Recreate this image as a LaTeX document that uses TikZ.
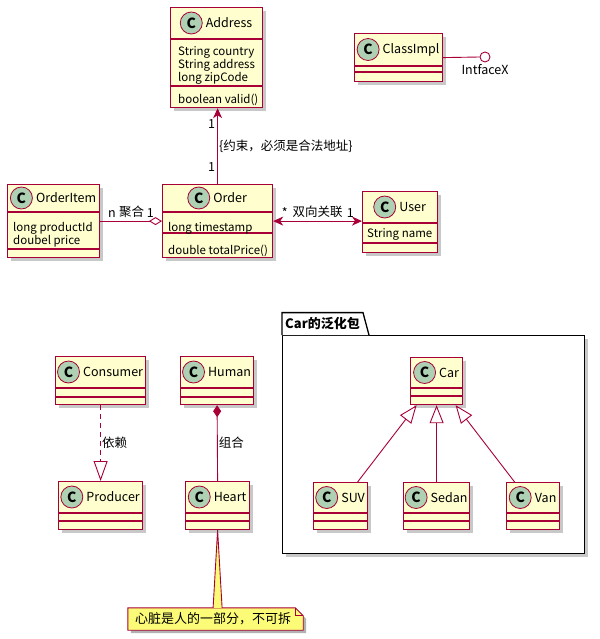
\documentclass[tikz,border=0pt]{standalone}
\usepackage{fontspec}
\setmainfont{Noto Sans CJK SC}
\usetikzlibrary{arrows.meta,positioning,calc,shadows,backgrounds}
\definecolor{umlfill}{HTML}{FEFECE}
\definecolor{umlline}{HTML}{A80036}
\definecolor{badgefill}{HTML}{ADD1B2}
\definecolor{notefill}{HTML}{FBFB77}
\tikzset{
  umlshadow/.style={drop shadow={shadow xshift=3pt,shadow yshift=-3pt,opacity=0.3,fill=black!70}},
  clsbox/.style={draw=umlline,fill=umlfill,line width=1.2pt,rectangle,inner sep=0pt,anchor=north west,umlshadow},
  clssep/.style={draw=umlline,line width=1.2pt},
  badge/.style={circle,draw=umlline,fill=badgefill,line width=0.8pt,minimum size=22pt,inner sep=0pt,font=\bfseries\fontsize{14}{14}\selectfont},
  clsname/.style={inner sep=0pt,font=\fontsize{12.5}{14}\selectfont},
  member/.style={inner sep=0pt,anchor=north west,align=left,font=\fontsize{11.5}{13}\selectfont},
  lbl/.style={inner sep=0pt,font=\fontsize{12.5}{14}\selectfont},
  link/.style={draw=umlline,line width=0.9pt},
  assocarr/.style={link,-{Stealth[length=10pt,width=9pt,inset=3pt]}},
  biarr/.style={link,{Stealth[length=10pt,width=9pt,inset=3pt]}-{Stealth[length=10pt,width=9pt,inset=3pt]}},
  aggarr/.style={link,-{Diamond[fill=white,length=13pt,width=8pt]}},
  comparr/.style={link,{Diamond[length=12pt,width=8pt]}-},
  deparr/.style={link,dashed,dash pattern=on 5pt off 4pt,-{Triangle[open,length=20pt,width=14pt]}},
  genarr/.style={link,-{Triangle[open,length=18pt,width=14pt]}},
  ifacecirc/.style={circle,draw=umlline,fill=white,line width=0.9pt,minimum size=10pt,inner sep=0pt},
  pkgbox/.style={draw=black,fill=white,line width=1.3pt,rectangle,inner sep=0pt,anchor=north west,umlshadow},
  pkgtab/.style={inner xsep=3pt,inner ysep=0pt,minimum height=22pt,anchor=south west,font=\bfseries\fontsize{13}{15}\selectfont},
  notebox/.style={inner xsep=7pt,inner ysep=0pt,text width=161pt,align=left,minimum height=22pt,font=\fontsize{13}{15}\selectfont}
}
% class box: id, corner, width, height, first and second separator, name
\newcommand{\umlclass}[7]{%
  \node[clsbox,minimum width=#3,minimum height=#4] (#1) at #2 {};
  \draw[clssep] ([yshift=-#5]#1.north west) -- ([yshift=-#5]#1.north east);
  \draw[clssep] ([yshift=-#6]#1.north west) -- ([yshift=-#6]#1.north east);
  \node[clsname] (#1-name) at ([xshift=12.5pt,yshift=-#5/2]#1.north) {#7};
  \node[badge,left=3pt of #1-name] (#1-c) {C};
}
\begin{document}
\begin{tikzpicture}[x=1pt,y=-1pt]
  \useasboundingbox (0,0) rectangle (599,639);
  \begin{scope}[on background layer]
    \fill[white] (0,0) rectangle (599,639);
  \end{scope}

  % Package
  \node[pkgbox,minimum width=302pt,minimum height=218pt] (carpkg) at (282,335) {};
  \node[pkgtab] (carpkg-tab) at (carpkg.north west) {Car的泛化包};
  \draw[draw=black,fill=white,line width=1.3pt] (carpkg-tab.south west) -- (carpkg-tab.north west)
    -- (carpkg-tab.north east) -- ([xshift=6pt]carpkg-tab.south east);
  \node[pkgtab] at (carpkg.north west) {Car的泛化包};

  % Classes
  \umlclass{address}{(170,7)}{92pt}{100pt}{32pt}{79pt}{Address}
  \umlclass{classimpl}{(354,33)}{88pt}{48pt}{33pt}{39pt}{ClassImpl}
  \umlclass{orderitem}{(7,184)}{92pt}{73pt}{28pt}{65pt}{OrderItem}
  \umlclass{order}{(162,184)}{110pt}{73pt}{28pt}{49pt}{Order}
  \umlclass{user}{(362,191)}{75pt}{61pt}{32pt}{52pt}{User}
  \umlclass{consumer}{(55,356)}{90pt}{48pt}{32pt}{41pt}{Consumer}
  \umlclass{human}{(180,356)}{73pt}{48pt}{32pt}{41pt}{Human}
  \umlclass{producer}{(58,481)}{84pt}{48pt}{32pt}{40pt}{Producer}
  \umlclass{heart}{(185,481)}{64pt}{48pt}{32pt}{40pt}{Heart}
  \umlclass{car}{(410,357)}{52pt}{47pt}{31pt}{39pt}{Car}
  \umlclass{suv}{(313,482)}{54pt}{47pt}{31pt}{39pt}{SUV}
  \umlclass{sedan}{(403,482)}{66pt}{47pt}{31pt}{39pt}{Sedan}
  \umlclass{van}{(506,482)}{53pt}{47pt}{31pt}{39pt}{Van}

  % Members
  \node[member] (address-attr) at ([xshift=8pt,yshift=-39.5pt]address.north west) {String country\\String address\\long zipCode};
  \node[member] (address-op) at ([xshift=8pt,yshift=-86.5pt]address.north west) {boolean valid()};
  \node[member] (orderitem-attr) at ([xshift=6pt,yshift=-38.5pt]orderitem.north west) {long productId\\doubel price};
  \node[member] (order-attr) at ([xshift=6pt,yshift=-38.5pt]order.north west) {long timestamp};
  \node[member] (order-op) at ([xshift=6pt,yshift=-60.5pt]order.north west) {double totalPrice()};
  \node[member] (user-attr) at ([xshift=5pt,yshift=-37.5pt]user.north west) {String name};

  % Interface
  \node[ifacecirc] (intfx) at (485,57) {};
  \node[lbl,below=2pt of intfx] (intfx-name) {IntfaceX};
  \draw[link] (classimpl.east) -- (intfx.west);

  % Relations
  \draw[assocarr] (order.north) -- (order.north |- address.south)
    node[lbl,pos=0.22,left=2pt] (order-m1) {1}
    node[lbl,pos=0.79,left=2pt] (address-m1) {1}
    node[lbl,midway,right=1pt] (address-rule) {\{约束，必须是合法地址\}};
  \draw[aggarr] (orderitem.east) -- (order.west)
    node[lbl,pos=0.19,above=3pt] (orderitem-mn) {n}
    node[lbl,pos=0.51,above=3pt] (agg-name) {聚合}
    node[lbl,pos=0.81,above=3pt] (order-m2) {1};
  \draw[biarr] (order.east) -- (user.west |- order.east)
    node[lbl,pos=0.13,above=3pt] (order-m3) {*}
    node[lbl,pos=0.5,above=3pt] (assoc-name) {双向关联}
    node[lbl,pos=0.87,above=3pt] (user-m1) {1};
  \draw[deparr] (consumer.south) -- (producer.north)
    node[lbl,midway,right=1pt] (dep-name) {依赖};
  \draw[comparr] (human.south) -- (heart.north)
    node[lbl,midway,right=1pt] (comp-name) {组合};
  \draw[genarr] ([xshift=17pt]suv.north) -- ([xshift=-20pt]car.south);
  \draw[genarr] (sedan.north) -- (sedan.north |- car.south);
  \draw[genarr] ([xshift=-18.5pt]van.north) -- ([xshift=19pt]car.south);

  % Note
  \node[notebox] (note) at (215.5,619) {心脏是人的一部分，不可拆};
  \coordinate (notetop) at (heart.south |- note.north);
  \begin{scope}[on background layer]
    \fill[black,opacity=0.3] ([xshift=3pt,yshift=-3pt]note.south west) -- ([xshift=3pt,yshift=-3pt]note.north west)
      -- ([xshift=-5pt,yshift=-3pt]note.north east) -- ([xshift=3pt,yshift=-11pt]note.north east)
      -- ([xshift=3pt,yshift=-3pt]note.south east) -- cycle;
    \fill[notefill,draw=umlline,line width=0.9pt] (note.south west) -- (note.north west) -- ([xshift=-8pt]note.north east)
      -- ([yshift=-8pt]note.north east) -- (note.south east) -- cycle;
    \draw[umlline,line width=0.9pt] ([xshift=-8pt]note.north east) -- ([xshift=-8pt,yshift=-8pt]note.north east)
      -- ([yshift=-8pt]note.north east);
    \fill[notefill] (heart.south) -- ([xshift=-4.5pt]notetop) -- ([xshift=4.5pt]notetop) -- cycle;
    \draw[umlline,line width=0.9pt] ([xshift=-4.5pt]notetop) -- (heart.south) -- ([xshift=4.5pt]notetop);
  \end{scope}
\end{tikzpicture}
\end{document}
